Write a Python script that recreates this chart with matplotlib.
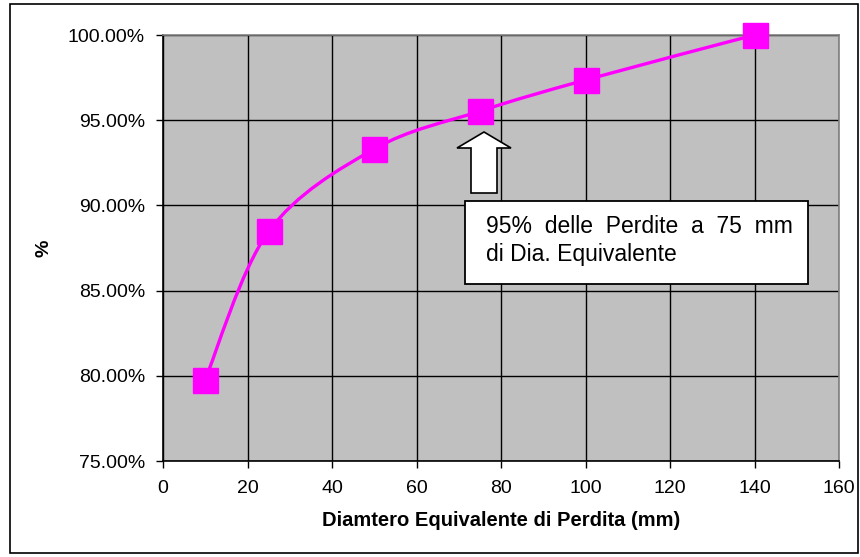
import numpy as np
import matplotlib
matplotlib.use('Agg')
import matplotlib.pyplot as plt
from matplotlib.path import Path
from matplotlib.patches import PathPatch, Polygon, Rectangle
from matplotlib.ticker import PercentFormatter

# Dati del grafico
diametro = [10, 25, 50, 75, 100, 140]
perdite_pct = [79.78, 88.47, 93.31, 95.53, 97.36, 100.0]
x_ticks = [0, 20, 40, 60, 80, 100, 120, 140, 160]
y_ticks = [75, 80, 85, 90, 95, 100]

W, H = 860, 557
MAGENTA = '#FF00FF'

plt.rcParams['font.family'] = ['Liberation Sans', 'DejaVu Sans']

fig = plt.figure(figsize=(W / 100, H / 100), dpi=100)
ax = fig.add_axes([163 / W, 1 - 461 / H, (839 - 163) / W, (461 - 35) / H])
ax.set_facecolor('#C0C0C0')


def smooth_path(xs, ys):
    # curva smussata tipo Excel (Catmull-Rom -> Bezier)
    pts = np.column_stack([xs, ys]).astype(float)
    n = len(pts)
    verts = [pts[0]]
    codes = [Path.MOVETO]
    for i in range(n - 1):
        p0 = pts[i - 1] if i > 0 else pts[i]
        p1 = pts[i]
        p2 = pts[i + 1]
        p3 = pts[i + 2] if i + 2 < n else pts[i + 1]
        c1 = p1 + (p2 - p0) / 6
        c2 = p2 - (p3 - p1) / 6
        verts += [c1, c2, p2]
        codes += [Path.CURVE4] * 3
    return Path(verts, codes)


ax.add_patch(PathPatch(smooth_path(diametro, perdite_pct), fill=False,
                       edgecolor=MAGENTA, lw=2.4, zorder=3))
ax.plot(diametro, perdite_pct, linestyle='none', marker='s', markersize=18,
        color=MAGENTA, zorder=4, clip_on=False)

ax.set_xlim(0, 160)
ax.set_ylim(75, 100)
ax.set_xticks(x_ticks)
ax.set_yticks(y_ticks)
ax.yaxis.set_major_formatter(PercentFormatter(xmax=100, decimals=2))
ax.grid(True, color='black', lw=1.0)
ax.set_axisbelow(True)
for s in ax.spines.values():
    s.set_color('#808080')
    s.set_linewidth(1.2)
ax.spines['left'].set_color('black')
ax.spines['bottom'].set_color('black')
ax.tick_params(direction='out', length=5, width=1, labelsize=14,
               colors='black')
ax.tick_params(axis='y', pad=8)
ax.tick_params(axis='x', pad=9)

ax.set_xlabel('Diamtero Equivalente di Perdita (mm)', fontsize=14.5,
              fontweight='bold', labelpad=10)
ax.set_ylabel('%', fontsize=14, fontweight='bold', labelpad=11)


def px(x, y):
    return (x / W, 1 - y / H)


# freccia verso il punto a 75 mm
arrow = [(484, 132), (511, 148), (497, 148), (497, 193), (471, 193),
         (471, 148), (457, 148)]
fig.add_artist(Polygon([px(*p) for p in arrow], closed=True,
                       transform=fig.transFigure, facecolor='white',
                       edgecolor='black', lw=1.2, zorder=5))

# riquadro di testo
x0, y0 = px(465, 284)
x1, y1 = px(808, 201)
fig.add_artist(Rectangle((x0, y0), x1 - x0, y1 - y0, transform=fig.transFigure,
                         facecolor='white', edgecolor='black', lw=1.3, zorder=5))
fig.text(*px(486, 233), '95%  delle  Perdite  a  75  mm', fontsize=16.5,
         va='baseline', ha='left', zorder=6)
fig.text(*px(486, 261), 'di Dia. Equivalente', fontsize=16.5,
         va='baseline', ha='left', zorder=6)

# bordo esterno
bx0, by0 = px(10, 553)
bx1, by1 = px(858, 4)
fig.add_artist(Rectangle((bx0, by0), bx1 - bx0, by1 - by0,
                         transform=fig.transFigure, fill=False,
                         edgecolor='black', lw=1.2))

fig.savefig('out.png', dpi=100)
